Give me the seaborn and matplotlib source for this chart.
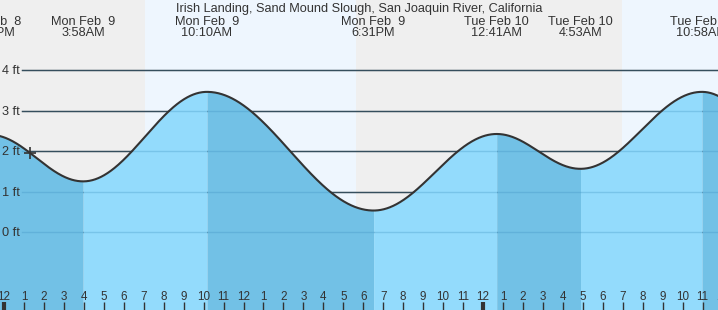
import numpy as np
import pandas as pd
import matplotlib
matplotlib.use("Agg")
import matplotlib.pyplot as plt
import seaborn as sns

# ---------------- data ----------------
title = "Irish Landing, Sand Mound Slough, San Joaquin River, California"

ext_days = ["Sun Feb  8", "Mon Feb  9", "Mon Feb  9", "Mon Feb  9",
            "Tue Feb 10", "Tue Feb 10", "Tue Feb 10", "Tue Feb 10"]
ext_times = ["11:18PM", "3:58AM", "10:10AM", "6:31PM",
             "12:41AM", "4:53AM", "10:58AM", "5:30PM"]
ext_heights = [2.40, 1.25, 3.46, 0.53, 2.42, 1.56, 3.46, 0.80]

sunrise_times = [("Mon Feb  9", "7:04AM"), ("Tue Feb 10", "6:58AM")]
sunset_times = [("Mon Feb  9", "5:38PM"), ("Tue Feb 10", "5:39PM")]

now_time = ("Mon Feb  9", "1:18AM")

y_ticks = [0, 1, 2, 3, 4]
y_tick_labels = ["0 ft", "1 ft", "2 ft", "3 ft", "4 ft"]

day_offset = {"Sun Feb  8": -1, "Mon Feb  9": 0, "Tue Feb 10": 1}


def to_hours(day, tstr):
    ampm = tstr[-2:]
    hh, mm = tstr[:-2].split(":")
    hh = int(hh) % 12 + (12 if ampm == "PM" else 0)
    return day_offset[day] * 24 + hh + int(mm) / 60.0


ext_hours = np.array([to_hours(d, t) for d, t in zip(ext_days, ext_times)])
ext_h = np.array(ext_heights)


def tide(t):
    t = np.atleast_1d(t).astype(float)
    out = np.empty_like(t)
    for k, tt in enumerate(t):
        i = np.searchsorted(ext_hours, tt) - 1
        i = min(max(i, 0), len(ext_hours) - 2)
        t0, t1 = ext_hours[i], ext_hours[i + 1]
        h0, h1 = ext_h[i], ext_h[i + 1]
        f = (1 + np.cos(np.pi * (tt - t0) / (t1 - t0))) / 2
        out[k] = h1 + (h0 - h1) * f
    return out


# ---------------- layout ----------------
PX_PER_H = 19.96
X0_PX = 4.0
PX_PER_FT = 40.5
Y0_PX = 232.0
W, H = 718, 310
xmin = (0 - X0_PX) / PX_PER_H
xmax = (W - X0_PX) / PX_PER_H
ymax = Y0_PX / PX_PER_FT
ymin = (Y0_PX - H) / PX_PER_FT

plt.rcParams["font.family"] = ["Liberation Sans", "DejaVu Sans"]
fig = plt.figure(figsize=(W / 100, H / 100), dpi=100)
ax = fig.add_axes([0, 0, 1, 1])
ax.set_xlim(xmin, xmax)
ax.set_ylim(ymin, ymax)
ax.axis("off")

NIGHT = "#efefef"
DAY = "#eef6fe"
WATER_RISE = "#93dbfc"
WATER_FALL = "#72c1e6"
TXT = "#333333"
FS = 9.2
FS_H = 8.4

# backgrounds
ax.axvspan(xmin, xmax, color=NIGHT, zorder=0, lw=0)
for (d1, t1), (d2, t2) in zip(sunrise_times, sunset_times):
    ax.axvspan(to_hours(d1, t1), to_hours(d2, t2), color=DAY, zorder=0.5, lw=0)

# grid lines (under water)
gx0 = (22 - X0_PX) / PX_PER_H
for yv in y_ticks:
    ax.plot([gx0, xmax], [yv, yv], color="#333333", lw=1.0, zorder=1)

# water fill per segment
for i in range(len(ext_hours) - 1):
    t0, t1 = ext_hours[i], ext_hours[i + 1]
    a, b = max(t0, xmin - 1), min(t1, xmax + 1)
    if b <= a:
        continue
    ts = np.linspace(a, b, 200)
    col = WATER_RISE if ext_h[i + 1] > ext_h[i] else WATER_FALL
    ax.fill_between(ts, ymin - 1, tide(ts), color=col, lw=0, zorder=2)

# faint grid lines over water
for yv in y_ticks:
    ax.plot([gx0, xmax], [yv, yv], color="#3a8fc0", alpha=0.3, lw=1.0, zorder=3)

# tide curve
tt = np.linspace(xmin - 0.5, xmax + 0.5, 1500)
df = pd.DataFrame({"hour": tt, "height": tide(tt)})
sns.lineplot(data=df, x="hour", y="height", ax=ax, color="#333333", lw=1.5,
             zorder=4, estimator=None, sort=False)
ax.set_xlim(xmin, xmax)
ax.set_ylim(ymin, ymax)
ax.axis("off")

# now marker
nh = to_hours(*now_time)
ax.scatter([nh], tide(nh), marker="+", s=70, color="#333333", lw=1.2, zorder=5)

# y labels
for yv, lab in zip(y_ticks, y_tick_labels):
    ax.text(2 / W, yv - 4.3 / PX_PER_FT, lab, transform=ax.get_yaxis_transform(),
            ha="left", va="baseline", fontsize=FS, color=TXT, zorder=6)

# hour ticks
xt = ax.get_xaxis_transform()
for hr in range(int(np.floor(xmin)), int(np.ceil(xmax)) + 1):
    if hr < xmin - 0.5 or hr > xmax + 0.5:
        continue
    lab = str(hr % 12 if hr % 12 else 12)
    ax.text(hr, (H - 300) / H, lab, transform=xt, ha="center", va="baseline",
            fontsize=FS_H, color=TXT, zorder=6)
    ax.plot([hr, hr], [0, 8 / H], transform=xt, color="#333333",
            lw=3 if hr % 24 == 0 else 1, zorder=6, solid_capstyle="butt")

# extreme labels
for d, t, hrs in zip(ext_days, ext_times, ext_hours):
    ax.text(hrs, 1 - 25 / H, d, transform=xt, ha="center", va="baseline",
            fontsize=FS, color=TXT, zorder=6)
    ax.text(hrs, 1 - 36 / H, t, transform=xt, ha="center", va="baseline",
            fontsize=FS, color=TXT, zorder=6)

# title
ax.text(0.5, 1 - 12 / H, title, transform=ax.transAxes, ha="center",
        va="baseline", fontsize=FS, color=TXT, zorder=6)

fig.savefig("out.png", dpi=100)
